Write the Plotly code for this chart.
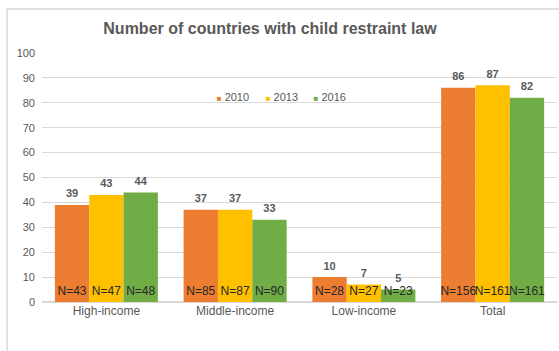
import plotly.graph_objects as go

categories = ["High-income", "Middle-income", "Low-income", "Total"]
years = ["2010", "2013", "2016"]
values_2010 = [39, 37, 10, 86]
values_2013 = [43, 37, 7, 87]
values_2016 = [44, 33, 5, 82]
n_2010 = [43, 85, 28, 156]
n_2013 = [47, 87, 27, 161]
n_2016 = [48, 90, 23, 161]
y_ticks = [0, 10, 20, 30, 40, 50, 60, 70, 80, 90, 100]

colors = ["#ED7D31", "#FFC000", "#70AD47"]
gray = "#595959"
font_family = "Liberation Sans, Arial, sans-serif"

fig = go.Figure()
series = [values_2010, values_2013, values_2016]
ns = [n_2010, n_2013, n_2016]

for i, (yr, vals) in enumerate(zip(years, series)):
    fig.add_trace(go.Bar(
        x=categories, y=vals, name=yr, showlegend=False, legendgroup=yr,
        marker=dict(color=colors[i], line=dict(width=0)),
        offsetgroup=str(i), hoverinfo="x+y",
    ))

# value labels above bars
for i, (yr, vals) in enumerate(zip(years, series)):
    fig.add_trace(go.Scatter(
        x=categories, y=vals, mode="markers+text",
        marker=dict(size=6, color="rgba(0,0,0,0)"),
        text=[f"<b>{v}</b>" for v in vals], textposition="top center",
        textfont=dict(size=11, color=gray, family=font_family),
        showlegend=False, offsetgroup=str(i), cliponaxis=False,
        hoverinfo="skip",
    ))

# sample-size labels at the base of bars
for i, (yr, nv) in enumerate(zip(years, ns)):
    fig.add_trace(go.Scatter(
        x=categories, y=[0] * len(categories), mode="markers+text",
        marker=dict(size=5, color="rgba(0,0,0,0)"),
        text=[f"N={n}" for n in nv], textposition="top center",
        textfont=dict(size=12, color="#262626", family=font_family),
        showlegend=False, offsetgroup=str(i), cliponaxis=False,
        hoverinfo="skip",
    ))

# legend entries (square glyph coloured like the series)
legend_ids = ["legend", "legend2", "legend3"]
for i, yr in enumerate(years):
    fig.add_trace(go.Scatter(
        x=[None], y=[None], mode="lines", line=dict(width=0, color="rgba(0,0,0,0)"),
        name=f"<span style='color:{colors[i]};font-size:8px'>■</span> {yr}",
        legendgroup=yr, showlegend=True, hoverinfo="skip", legend=legend_ids[i],
    ))

legend_style = dict(orientation="h", xanchor="left", y=0.823, yanchor="middle",
                    font=dict(size=11, color=gray), itemwidth=30, borderwidth=0,
                    bgcolor="rgba(0,0,0,0)")
legend_left_px = [177, 226, 274]

fig.update_layout(
    width=559, height=351,
    margin=dict(l=42, r=2, t=53, b=49),
    paper_bgcolor="white", plot_bgcolor="white",
    barmode="group", bargap=0.2, bargroupgap=0,
    scattermode="group", scattergap=0.2,
    font=dict(family=font_family, color=gray, size=11),
    title=dict(text="<b>Number of countries with child restraint law</b>",
               x=0.483, xanchor="center", y=0.92, yanchor="middle",
               font=dict(size=16, color=gray, family=font_family)),
    legend=dict(x=(legend_left_px[0] - 42) / 516, **legend_style),
    legend2=dict(x=(legend_left_px[1] - 42) / 516, **legend_style),
    legend3=dict(x=(legend_left_px[2] - 42) / 516, **legend_style),
    showlegend=True,
)
fig.update_yaxes(range=[0, 100], tickvals=y_ticks, showgrid=True, gridcolor="#D9D9D9",
                 gridwidth=1, zeroline=True, zerolinecolor="#D9D9D9", showline=False,
                 ticks="", ticklabelstandoff=6, tickfont=dict(size=11, color=gray))
fig.update_xaxes(showgrid=False, showline=False, ticks="", tickfont=dict(size=12, color=gray))

fig.add_shape(type="rect", xref="paper", yref="paper",
              x0=(7 - 42) / 516, x1=(600 - 42) / 516,
              y0=-1, y1=(302 - 9) / 249,
              line=dict(color="#D9D9D9", width=1.5), fillcolor="rgba(0,0,0,0)", layer="below")

fig.write_html("out.html")
